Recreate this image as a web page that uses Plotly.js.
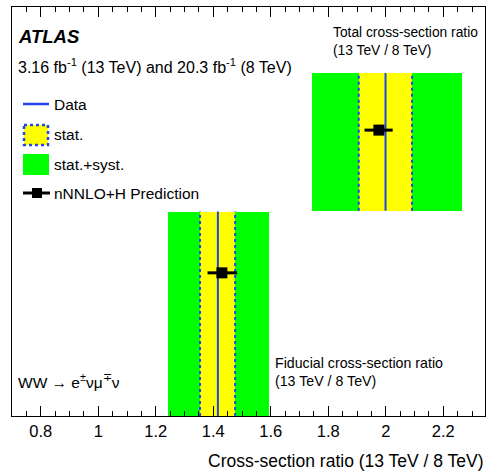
<!DOCTYPE html>
<html>
<head>
<meta charset="utf-8">
<script src="https://cdn.plot.ly/plotly-3.0.1.min.js"></script>
<style>
  html, body { margin: 0; padding: 0; background: #fff; }
  #chart { width: 488px; height: 474px; }
</style>
</head>
<body>
<div id="chart"></div>
<script>
// WW -> e nu mu nu cross-section ratios, 13 TeV over 8 TeV
const measurements = ['Fiducial', 'Total'];
const dataRatio   = [1.416, 1.999];
const statLow     = [1.354, 1.906];
const statHigh    = [1.476, 2.091];
const totalLow    = [1.241, 1.743];
const totalHigh   = [1.594, 2.266];
const prediction  = [1.430, 1.976];
const predErrUp   = [0.053, 0.048];
const predErrDown = [0.050, 0.050];
const xTickVals   = [0.8, 1.0, 1.2, 1.4, 1.6, 1.8, 2.0, 2.2];
const xTickText   = ['0.8', '1', '1.2', '1.4', '1.6', '1.8', '2', '2.2'];

// vertical placement of each measurement row (y axis runs 0..1)
const rowBottom = [0.0, 0.502];
const rowTop    = [0.5, 0.8385];
const rowMarker = [0.35, 0.699];

const GREEN = '#00ff00', YELLOW = '#ffff00', BLUE = '#2244ee';
const FONT = 'Liberation Sans, Arial, sans-serif';

const traces = [];
// stat.+syst. band
traces.push({
  type: 'bar', orientation: 'h',
  y: rowBottom.map((b, i) => (b + rowTop[i]) / 2),
  width: rowBottom.map((b, i) => rowTop[i] - b),
  base: totalLow,
  x: totalHigh.map((h, i) => h - totalLow[i]),
  marker: { color: GREEN, line: { width: 0 } },
  hoverinfo: 'skip', showlegend: false
});
// stat. band
traces.push({
  type: 'bar', orientation: 'h',
  y: rowBottom.map((b, i) => (b + rowTop[i]) / 2),
  width: rowBottom.map((b, i) => rowTop[i] - b),
  base: statLow,
  x: statHigh.map((h, i) => h - statLow[i]),
  marker: { color: YELLOW, line: { width: 0 } },
  hoverinfo: 'skip', showlegend: false
});
// one vertical segment per row at each given x
function verticals(vals) {
  const xs = [], ys = [];
  vals.forEach((v, i) => { xs.push(v, v, null); ys.push(rowBottom[i], rowTop[i], null); });
  return { xs, ys };
}
// dotted stat. edges
const lo = verticals(statLow), hi = verticals(statHigh);
traces.push({
  type: 'scatter', mode: 'lines', x: lo.xs.concat(hi.xs), y: lo.ys.concat(hi.ys),
  line: { color: BLUE, width: 2, dash: 'dot' }, hoverinfo: 'skip', showlegend: false
});
// measured values
const d = verticals(dataRatio);
traces.push({
  type: 'scatter', mode: 'lines', x: d.xs, y: d.ys,
  line: { color: BLUE, width: 2 }, hoverinfo: 'skip', showlegend: false
});
// theory prediction
traces.push({
  type: 'scatter', mode: 'markers', x: prediction, y: rowMarker,
  marker: { symbol: 'square', size: 11, color: '#000' },
  error_x: { type: 'data', array: predErrUp, arrayminus: predErrDown, color: '#000', thickness: 3, width: 0 },
  hoverinfo: 'skip', showlegend: false
});

// pixel -> paper helpers for the hand-drawn legend and labels
const L = 12, R = 485, T = 7, B = 416;
const px = v => (v - L) / (R - L);
const py = v => (B - v) / (B - T);

const shapes = [
  { type: 'line', xref: 'paper', yref: 'paper', x0: px(23), x1: px(49), y0: py(104), y1: py(104), line: { color: BLUE, width: 2.5 } },
  { type: 'rect', xref: 'paper', yref: 'paper', x0: px(24), x1: px(48), y0: py(125), y1: py(145), fillcolor: YELLOW, line: { color: BLUE, width: 2.5, dash: 'dot' } },
  { type: 'rect', xref: 'paper', yref: 'paper', x0: px(23), x1: px(49), y0: py(154), y1: py(175), fillcolor: GREEN, line: { width: 0 } },
  { type: 'line', xref: 'paper', yref: 'paper', x0: px(23), x1: px(50), y0: py(193), y1: py(193), line: { color: '#000', width: 3 } },
  { type: 'rect', xref: 'paper', yref: 'paper', x0: px(32), x1: px(42), y0: py(188), y1: py(198), fillcolor: '#000', line: { width: 0 } }
];

function label(text, x, y, size, extra) {
  return Object.assign({ text, xref: 'paper', yref: 'paper', x: px(x), y: py(y), xanchor: 'left', yanchor: 'middle',
    showarrow: false, align: 'left', font: { family: FONT, size, color: '#000' } }, extra || {});
}

const annotations = [
  label('<b><i>ATLAS</i></b>', 16, 36, 18.5),
  label('3.16 fb<sup>-1</sup> (13 TeV) and 20.3 fb<sup>-1</sup> (8 TeV)', 16, 66, 16),
  label('Data', 52, 104, 15.5),
  label('stat.', 52, 134, 15.5),
  label('stat.+syst.', 52, 164, 15.5),
  label('nNNLO+H Prediction', 52, 193, 15.5),
  label('Total cross-section ratio<br>(13 TeV / 8 TeV)', 331, 41, 13.8),
  label('Fiducial cross-section ratio<br>(13 TeV / 8 TeV)', 273, 372, 14.2),
  label('WW \u2192 e<sup>\u00b1</sup>\u03bd\u03bc<sup>\u2213</sup>\u03bd', 16, 381, 15.5),
  label('Cross-section ratio (13 TeV / 8 TeV)', 486, 461, 17.5, { xanchor: 'right' })
];

const layout = {
  width: 488, height: 474,
  margin: { l: L, r: 488 - R, t: T, b: 474 - B, pad: 0 },
  paper_bgcolor: '#fff', plot_bgcolor: '#fff',
  barmode: 'overlay', bargap: 0,
  showlegend: false,
  font: { family: FONT, color: '#000' },
  xaxis: {
    range: [0.7, 2.345], showgrid: false, zeroline: false,
    showline: true, linecolor: '#000', linewidth: 1, mirror: 'ticks',
    ticks: 'inside', ticklen: 10, tickwidth: 1, tickcolor: '#000',
    tickvals: xTickVals, ticktext: xTickText,
    tickfont: { family: FONT, size: 16.5, color: '#000' },
    minor: { dtick: 0.05, tick0: 0, ticks: 'inside', ticklen: 5, tickcolor: '#000', tickwidth: 1 }
  },
  yaxis: {
    range: [0, 1], showgrid: false, zeroline: false, showticklabels: false,
    showline: true, linecolor: '#000', linewidth: 1, mirror: true, ticks: ''
  },
  shapes, annotations
};

Plotly.newPlot('chart', traces, layout, { staticPlot: true, displayModeBar: false });
</script>
</body>
</html>
